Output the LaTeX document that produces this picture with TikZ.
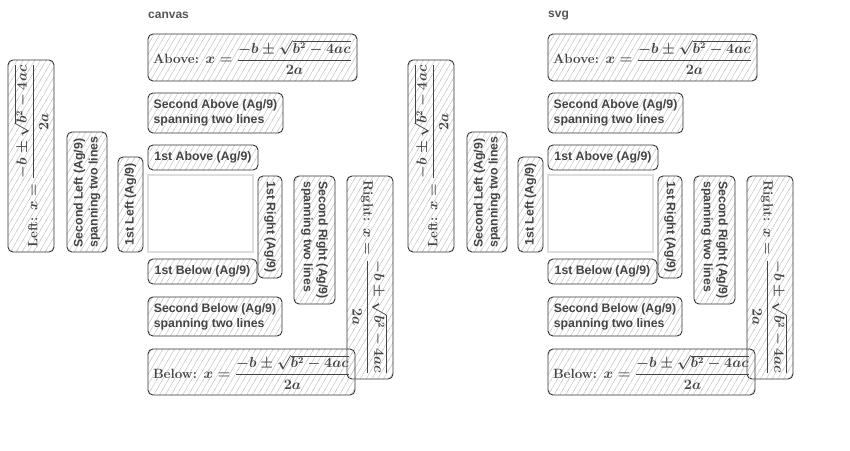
\documentclass[tikz,border=0pt]{standalone}
\usepackage{amsmath}
\usepackage{amsbsy}
\usepackage{fontspec}
\newfontfamily\labelfont{Liberation Sans}
\usetikzlibrary{patterns}
\definecolor{inkgray}{HTML}{444444}
\definecolor{edgegray}{HTML}{333333}
\definecolor{hatchgray}{HTML}{C8C8C8}
\definecolor{framegray}{HTML}{DDDDDD}
\definecolor{titlegray}{HTML}{555555}
\pgfdeclarepatternformonly{hatch}{\pgfqpoint{-1pt}{-1pt}}{\pgfqpoint{6.8pt}{11pt}}{\pgfqpoint{5.8pt}{10pt}}{%
  \pgfsetlinewidth{0.5pt}%
  \pgfpathmoveto{\pgfqpoint{-0.58pt}{-1pt}}%
  \pgfpathlineto{\pgfqpoint{6.38pt}{11pt}}%
  \pgfusepath{stroke}}
\newcommand{\quadform}[1]{\textbf{#1:} $\boldsymbol{x = \dfrac{-b \pm \sqrt{b^2 - 4ac}}{2a}}$}

\begin{document}
\begin{tikzpicture}[x=1pt, y=-1pt,
    labelbox/.style={draw=edgegray, line width=0.9pt, rounded corners=5pt,
      pattern=hatch, pattern color=hatchgray,
      text=inkgray, inner sep=0pt, align=left,
      font=\labelfont\bfseries\fontsize{12.3}{15}\selectfont},
    mathbox/.style={labelbox, font=\bfseries\fontsize{13.4}{16}\selectfont},
    panelname/.style={text=titlegray, inner sep=0pt, anchor=west,
      font=\labelfont\bfseries\fontsize{12}{14}\selectfont},
    emptybox/.style={draw=framegray, line width=1.2pt, inner sep=0pt}]
  \useasboundingbox (0, 0) rectangle (850, 450);

  \foreach \dx/\pname in {0/canvas, 400/svg} {
    \begin{scope}[xshift=\dx pt]
      \node [panelname] (name-\pname) at (148, 15.5) {\pname};
      % the box that the labels sit round
      \node [emptybox, minimum width=105pt, minimum height=77pt] (box-\pname) at (200.5, 213.5) {};
      % above and below
      \node [mathbox, minimum width=209pt, minimum height=47pt] (above-\pname) at (252.5, 57.5) {\quadform{Above}};
      \node [labelbox, minimum width=135pt, minimum height=40pt] (aboveb-\pname) at (215.5, 113) {Second Above (Ag/9)\\spanning two lines};
      \node [labelbox, minimum width=110pt, minimum height=25pt] (abovea-\pname) at (203, 157.5) {1st Above (Ag/9)};
      \node [labelbox, minimum width=109pt, minimum height=25pt] (belowa-\pname) at (202.5, 271.5) {1st Below (Ag/9)};
      \node [labelbox, minimum width=134pt, minimum height=39pt] (belowb-\pname) at (215, 316.5) {Second Below (Ag/9)\\spanning two lines};
      % right, turned clockwise
      \node [labelbox, rotate=-90, minimum width=102pt, minimum height=24pt] (righta-\pname) at (270, 227) {1st Right (Ag/9)};
      \node [labelbox, rotate=-90, minimum width=128pt, minimum height=41pt] (rightb-\pname) at (314.5, 240) {Second Right (Ag/9)\\spanning two lines};
      \node [mathbox, rotate=-90, minimum width=203pt, minimum height=46pt] (right-\pname) at (370, 277.5) {\quadform{Right}};
      \node [mathbox, minimum width=207pt, minimum height=46pt] (below-\pname) at (251.5, 372) {\quadform{Below}};
      % left, turned anticlockwise
      \node [mathbox, rotate=90, minimum width=192pt, minimum height=46pt] (left-\pname) at (31, 156) {\quadform{Left}};
      \node [labelbox, rotate=90, minimum width=120pt, minimum height=40pt] (leftb-\pname) at (87, 192) {Second Left (Ag/9)\\spanning two lines};
      \node [labelbox, rotate=90, minimum width=95pt, minimum height=25pt] (lefta-\pname) at (130.5, 204.5) {1st Left (Ag/9)};
    \end{scope}
  }
\end{tikzpicture}
\end{document}
